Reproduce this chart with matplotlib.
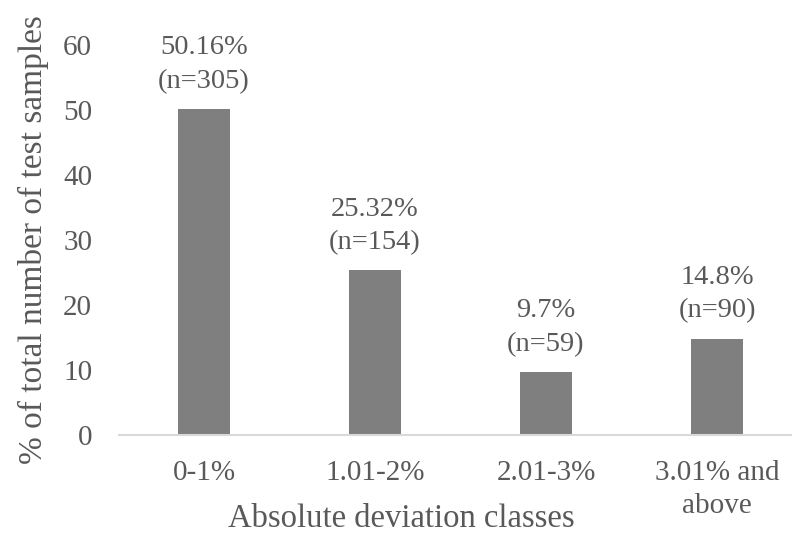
import matplotlib
matplotlib.use("Agg")
import matplotlib.pyplot as plt

categories = ["0-1%", "1.01-2%", "2.01-3%", "3.01% and\nabove"]
percentages = [50.16, 25.32, 9.7, 14.8]
counts = [305, 154, 59, 90]
yticks = [0, 10, 20, 30, 40, 50, 60]

text_color = "#595959"
bar_color = "#7f7f7f"

plt.rcParams["font.family"] = ["Liberation Serif", "DejaVu Serif"]

fig = plt.figure(figsize=(7.92, 5.44), dpi=100)
ax = fig.add_axes([118.5 / 792, 1 - 435 / 544, 684 / 792, (435 - 45) / 544])

x = list(range(len(categories)))
bars = ax.bar(x, percentages, width=0.30, color=bar_color, zorder=2)

for xi, p, n in zip(x, percentages, counts):
    ax.annotate(f"{p:g}%\n(n={n})", xy=(xi, p), xytext=(0, 11),
                textcoords="offset points", ha="center", va="bottom",
                fontsize=20.5, color=text_color, linespacing=1.45)

ax.set_xlim(-0.5, len(categories) - 0.5)
ax.set_ylim(0, 60)
ax.set_yticks(yticks)
ax.set_xticks(x)
ax.set_xticklabels(categories, linespacing=1.35)
ax.tick_params(axis="both", length=0, labelsize=21, labelcolor=text_color)
ax.tick_params(axis="y", pad=19)
ax.tick_params(axis="x", pad=18)

for side in ("top", "right", "left"):
    ax.spines[side].set_visible(False)
ax.spines["bottom"].set_color("#d9d9d9")
ax.spines["bottom"].set_linewidth(1.5)

ax.set_xlabel("Absolute deviation classes", fontsize=23.5, color=text_color,
              va="center")
ax.xaxis.set_label_coords(0.413, -0.215)
ax.set_ylabel("% of total number of test samples", fontsize=24, color=text_color, labelpad=10)

fig.savefig("out.png", dpi=100)
